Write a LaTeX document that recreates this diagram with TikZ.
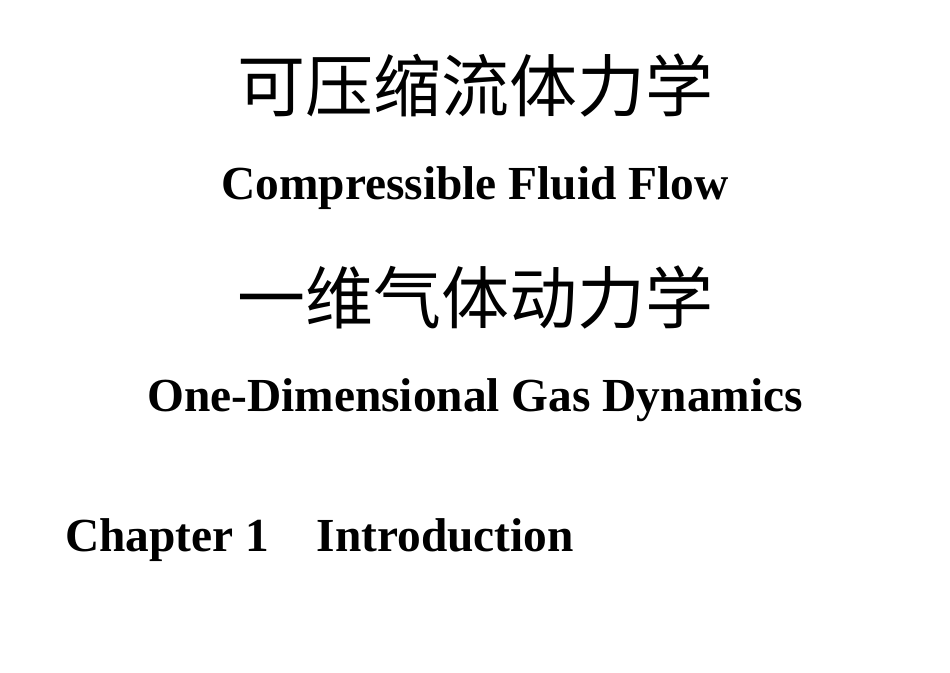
\documentclass[tikz,border=0pt]{standalone}
\usepackage{fontspec}
\setmainfont{Liberation Serif}
\newfontfamily\cjk{Noto Sans CJK SC}
\begin{document}
\begin{tikzpicture}[x=1pt,y=1pt,
  zh/.style={font=\cjk\fontsize{68}{74}\selectfont, inner sep=0pt},
  en/.style={font=\bfseries\fontsize{47.4}{52}\selectfont, inner sep=0pt}]
\useasboundingbox (0,0) rectangle (950,-672);
\node[zh] (t1) at (475,-85) {可压缩流体力学};
\node[en] (t2) at (475,-188) {Compressible Fluid Flow};
\node[zh] (t3) at (475,-297) {一维气体动力学};
\node[en] (t4) at (475,-400) {One-Dimensional Gas Dynamics};
\node[en, anchor=west] (t5) at (65,-540) {Chapter 1\hspace{0.75em} Introduction};
\end{tikzpicture}
\end{document}
